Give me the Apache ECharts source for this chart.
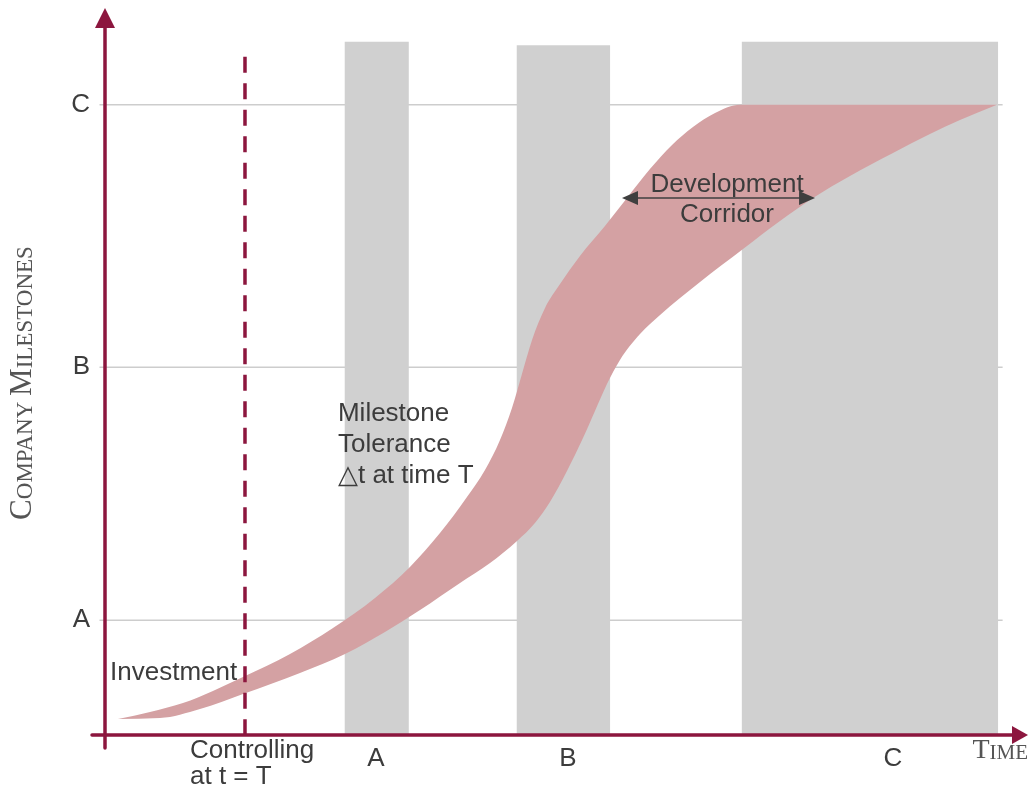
<!DOCTYPE html>
<html>
<head>
<meta charset="utf-8">
<script src="https://cdn.jsdelivr.net/npm/echarts@6/dist/echarts.min.js"></script>
<style>
  html, body { margin: 0; padding: 0; background: #ffffff; }
  #chart { width: 1030px; height: 795px; }
</style>
</head>
<body>
<div id="chart"></div>
<script>
// Milestone levels on the vertical axis
const milestoneNames = ['A', 'B', 'C'];
const milestoneLevels = [16.0, 51.3, 87.9];

// Project phases on the time axis
const phaseNames = ['A', 'B', 'C'];
const phaseLabelTimes = [29.6, 50.6, 86.1];
const phaseStart = [26.2, 45.0, 69.6];
const phaseEnd = [33.2, 55.2, 97.6];
const phaseTop = [96.7, 96.2, 96.7];

// Controlling point t = T
const controlTime = 15.3;
const controlTop = 94.6;
const gridlineEnd = 98.1;

// Development corridor: early (upper) and late (lower) boundary, [time, milestone]
const corridorUpper = [
  [1.42, 2.23], [4.92, 3.21], [8.52, 4.46], [15.08, 8.09], [20.22, 11.30],
  [24.92, 14.92], [29.51, 19.11], [33.33, 23.43], [36.61, 28.17], [39.56, 33.19],
  [41.53, 36.96], [43.17, 41.14], [44.48, 45.61], [45.57, 50.35], [46.67, 55.09],
  [48.09, 59.55], [49.73, 62.90], [51.91, 66.81], [54.64, 70.99], [57.05, 74.90],
  [59.56, 78.94], [61.97, 82.29], [64.26, 84.80], [66.67, 86.75], [69.40, 87.90],
  [81.42, 87.90], [97.49, 87.90]
];
const corridorLower = [
  [1.42, 2.23], [6.01, 2.37], [10.38, 3.63], [15.08, 5.72], [21.31, 8.65],
  [26.23, 11.30], [30.60, 14.37], [34.43, 17.43], [38.80, 21.20], [42.08, 23.99],
  [45.03, 27.06], [46.99, 29.57], [48.63, 32.50], [50.49, 36.82], [52.24, 41.42],
  [53.55, 45.19], [54.86, 48.95], [56.28, 52.30], [58.47, 55.93], [60.66, 58.58],
  [65.03, 63.18], [69.73, 67.78], [73.77, 71.69], [77.38, 74.90], [81.42, 77.96],
  [86.12, 81.17], [90.16, 83.82], [93.44, 85.77], [97.49, 87.90]
];

// Double arrow spanning the corridor width
const corridorArrow = [[56.5, 74.9], [77.6, 74.9]];

// Annotations
const noteTexts = ['Investment', 'Milestone\nTolerance\n\u25B3t at time T', 'Development\nCorridor', 'Controlling\nat t = T'];
const noteAnchors = [[0.55, 8.65], [25.46, 40.5], [67.98, 74.6], [9.29, -4.0]];
const noteAlign = ['left', 'left', 'center', 'left'];
const noteLineHeight = [30, 31, 30, 26];

const AXIS_COLOR = '#8c163e';
const TEXT_COLOR = '#3c3c3c';
const BAND_COLOR = '#d4a1a3';
const PHASE_COLOR = '#d0d0d0';
const GRID_COLOR = '#cdcdcd';
const SANS = '"Liberation Sans", Arial, Helvetica, sans-serif';
const SERIF = '"Liberation Serif", "Times New Roman", serif';

function nearestIndex(arr, v) {
  let best = 0;
  for (let i = 1; i < arr.length; i++) {
    if (Math.abs(arr[i] - v) < Math.abs(arr[best] - v)) best = i;
  }
  return best;
}

// Monotone (in x) cubic tangents for a run of pixel points
function monotoneTangents(pts) {
  const n = pts.length;
  const m = new Array(n).fill(0);
  const s = [];
  for (let i = 0; i < n - 1; i++) {
    s.push((pts[i + 1][1] - pts[i][1]) / (pts[i + 1][0] - pts[i][0]));
  }
  for (let i = 1; i < n - 1; i++) {
    const h0 = pts[i][0] - pts[i - 1][0];
    const h1 = pts[i + 1][0] - pts[i][0];
    const p = (s[i - 1] * h1 + s[i] * h0) / (h0 + h1);
    m[i] = (Math.sign(s[i - 1]) + Math.sign(s[i])) *
      Math.min(Math.abs(s[i - 1]), Math.abs(s[i]), 0.5 * Math.abs(p)) || 0;
  }
  m[0] = (3 * s[0] - m[1]) / 2;
  m[n - 1] = (3 * s[n - 2] - m[n - 2]) / 2;
  return m;
}

// Cubic segments [p0, c1, c2, p1] following the points
function curveSegments(pts) {
  const m = monotoneTangents(pts);
  const segs = [];
  for (let i = 0; i < pts.length - 1; i++) {
    const h = (pts[i + 1][0] - pts[i][0]) / 3;
    segs.push([
      pts[i],
      [pts[i][0] + h, pts[i][1] + m[i] * h],
      [pts[i + 1][0] - h, pts[i + 1][1] - m[i + 1] * h],
      pts[i + 1]
    ]);
  }
  return segs;
}

const f = v => v.toFixed(2);

const chart = echarts.init(document.getElementById('chart'), null, { renderer: 'canvas' });

const option = {
  backgroundColor: '#ffffff',
  animation: false,
  grid: { left: 92, right: 10, top: 18, bottom: 47, containLabel: false, outerBoundsMode: 'none' },
  xAxis: {
    type: 'value',
    min: -1.42,
    max: 100,
    z: 10,
    axisLine: {
      onZero: true,
      symbol: ['none', 'triangle'],
      symbolSize: [18, 16],
      lineStyle: { color: AXIS_COLOR, width: 3.5 }
    },
    axisTick: { show: false },
    splitLine: { show: false },
    axisLabel: {
      customValues: phaseLabelTimes,
      formatter: v => phaseNames[nearestIndex(phaseLabelTimes, v)],
      color: TEXT_COLOR,
      fontFamily: SANS,
      fontSize: 26,
      margin: -2
    },
    name: '{b|T}{s|IME}',
    nameLocation: 'end',
    nameGap: 8,
    nameTextStyle: {
      align: 'right',
      verticalAlign: 'top',
      padding: [0, 0, 0, 0],
      rich: {
        b: { fontFamily: SERIF, fontSize: 28, color: '#555555', verticalAlign: 'bottom', lineHeight: 30 },
        s: { fontFamily: SERIF, fontSize: 21, color: '#555555', verticalAlign: 'bottom', lineHeight: 30, padding: [0, 0, 1, 0] }
      }
    }
  },
  yAxis: {
    type: 'value',
    min: -1.81,
    max: 100,
    z: 10,
    axisLine: {
      onZero: true,
      symbol: ['none', 'triangle'],
      symbolSize: [20, 20],
      lineStyle: { color: AXIS_COLOR, width: 3.5 }
    },
    axisTick: { show: false },
    splitLine: { show: false },
    axisLabel: {
      customValues: milestoneLevels,
      formatter: v => milestoneNames[nearestIndex(milestoneLevels, v)],
      color: TEXT_COLOR,
      fontFamily: SANS,
      fontSize: 26,
      margin: 2
    },
    name: '{b|C}{s|OMPANY }{b|M}{s|ILESTONES}',
    nameLocation: 'middle',
    nameRotate: 90,
    nameGap: 54,
    nameTextStyle: {
      rich: {
        b: { fontFamily: SERIF, fontSize: 31, color: '#555555', verticalAlign: 'bottom', lineHeight: 32 },
        s: { fontFamily: SERIF, fontSize: 23, color: '#555555', verticalAlign: 'bottom', lineHeight: 32, padding: [0, 0, 1, 0] }
      }
    }
  },
  series: [
    {
      // horizontal milestone lines
      type: 'custom',
      z: 1,
      silent: true,
      data: milestoneLevels.map(v => [v]),
      renderItem: (params, api) => {
        const level = api.value(0);
        const a = api.coord([-0.6, level]);
        const b = api.coord([gridlineEnd, level]);
        return {
          type: 'line',
          shape: { x1: a[0], y1: a[1], x2: b[0], y2: b[1] },
          style: { stroke: GRID_COLOR, lineWidth: 1.6 }
        };
      }
    },
    {
      // phase windows
      type: 'custom',
      z: 2,
      silent: true,
      data: phaseStart.map((s, i) => [s, phaseEnd[i], phaseTop[i]]),
      renderItem: (params, api) => {
        const tl = api.coord([api.value(0), api.value(2)]);
        const br = api.coord([api.value(1), 0]);
        return {
          type: 'rect',
          shape: { x: tl[0], y: tl[1], width: br[0] - tl[0], height: br[1] - tl[1] },
          style: { fill: PHASE_COLOR }
        };
      }
    },
    {
      // development corridor band: early boundary forward, late boundary back
      type: 'custom',
      z: 3,
      silent: true,
      data: [[0]],
      renderItem: (params, api) => {
        const up = curveSegments(corridorUpper.map(p => api.coord(p)));
        const lo = curveSegments(corridorLower.map(p => api.coord(p)));
        let d = 'M' + f(up[0][0][0]) + ' ' + f(up[0][0][1]);
        up.forEach(s => {
          d += ' C' + f(s[1][0]) + ' ' + f(s[1][1]) + ' ' + f(s[2][0]) + ' ' + f(s[2][1]) +
            ' ' + f(s[3][0]) + ' ' + f(s[3][1]);
        });
        const last = lo[lo.length - 1][3];
        d += ' L' + f(last[0]) + ' ' + f(last[1]);
        for (let i = lo.length - 1; i >= 0; i--) {
          const s = lo[i];
          d += ' C' + f(s[2][0]) + ' ' + f(s[2][1]) + ' ' + f(s[1][0]) + ' ' + f(s[1][1]) +
            ' ' + f(s[0][0]) + ' ' + f(s[0][1]);
        }
        d += ' Z';
        return {
          type: 'path',
          shape: { pathData: d },
          style: { fill: BAND_COLOR }
        };
      }
    },
    {
      // controlling time marker
      type: 'custom',
      z: 4,
      silent: true,
      data: [[controlTime, controlTop]],
      renderItem: (params, api) => {
        const top = api.coord([api.value(0), api.value(1)]);
        const bottom = api.coord([api.value(0), 0]);
        return {
          type: 'line',
          shape: { x1: top[0], y1: top[1], x2: bottom[0], y2: bottom[1] },
          style: { stroke: AXIS_COLOR, lineWidth: 3.5, lineDash: [16, 10.5] }
        };
      }
    },
    {
      // corridor width arrow
      type: 'custom',
      z: 6,
      silent: true,
      data: [[corridorArrow[0][0], corridorArrow[0][1], corridorArrow[1][0], corridorArrow[1][1]]],
      renderItem: (params, api) => {
        const a = api.coord([api.value(0), api.value(1)]);
        const b = api.coord([api.value(2), api.value(3)]);
        const head = 16, half = 7;
        return {
          type: 'group',
          children: [
            {
              type: 'line',
              shape: { x1: a[0] + head - 2, y1: a[1], x2: b[0] - head + 2, y2: b[1] },
              style: { stroke: '#3f3f3f', lineWidth: 1.6 }
            },
            {
              type: 'polygon',
              shape: { points: [[a[0], a[1]], [a[0] + head, a[1] - half], [a[0] + head, a[1] + half]] },
              style: { fill: '#3f3f3f' }
            },
            {
              type: 'polygon',
              shape: { points: [[b[0], b[1]], [b[0] - head, b[1] - half], [b[0] - head, b[1] + half]] },
              style: { fill: '#3f3f3f' }
            }
          ]
        };
      }
    },
    {
      // annotations
      type: 'custom',
      z: 7,
      silent: true,
      clip: false,
      data: noteAnchors.map((p, i) => [p[0], p[1], i]),
      renderItem: (params, api) => {
        const i = api.value(2);
        const p = api.coord([api.value(0), api.value(1)]);
        return {
          type: 'text',
          x: p[0],
          y: p[1],
          style: {
            text: noteTexts[i],
            fill: TEXT_COLOR,
            fontFamily: SANS,
            fontSize: 26,
            lineHeight: noteLineHeight[i],
            align: noteAlign[i],
            verticalAlign: 'middle'
          }
        };
      }
    }
  ]
};

chart.setOption(option);
</script>
</body>
</html>
